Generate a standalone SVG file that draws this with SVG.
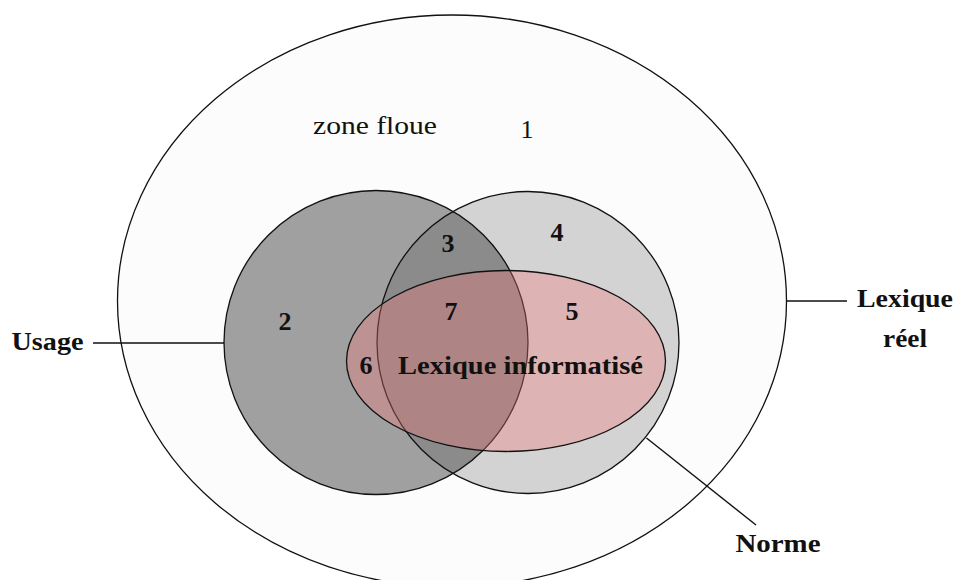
<svg xmlns="http://www.w3.org/2000/svg" width="957" height="580" viewBox="0 0 957 580">
<style>
.b{font-family:"Liberation Serif","DejaVu Serif",serif;font-weight:bold;font-size:26px;fill:#111;text-anchor:middle}
.r{font-family:"Liberation Serif","DejaVu Serif",serif;font-weight:normal;font-size:26px;fill:#111;text-anchor:middle}
.ln{stroke:#111;stroke-width:1.4;fill:none}
.edge{stroke:#111;stroke-width:1.3}
</style>
<rect width="957" height="580" fill="#ffffff"/>
<g id="lexique-reel">
<ellipse cx="452" cy="301" rx="334.5" ry="286" fill="#fcfcfc" class="edge"/>
<text class="r" x="375" y="134" textLength="124" lengthAdjust="spacingAndGlyphs">zone floue</text>
<text class="r" x="527" y="138">1</text>
</g>
<g id="norme">
<circle cx="528" cy="342.5" r="151" fill="#d3d3d3"/>
</g>
<g id="usage">
<circle cx="376" cy="342.5" r="152" fill="#444444" fill-opacity="0.5" class="edge"/>
</g>
<g id="norme-edge">
<circle cx="528" cy="342.5" r="151" fill="none" class="edge"/>
</g>
<g id="lexique-informatise">
<ellipse cx="506" cy="361" rx="159.5" ry="90.5" fill="rgb(240,120,120)" fill-opacity="0.35"/>
<ellipse cx="506" cy="361" rx="159.5" ry="90.5" fill="none" class="edge"/>
<text class="b" x="520.5" y="374" textLength="245" lengthAdjust="spacingAndGlyphs">Lexique informatisé</text>
</g>
<g id="numbers">
<text class="b" x="285" y="330">2</text>
<text class="b" x="448" y="252">3</text>
<text class="b" x="557" y="241">4</text>
<text class="b" x="572" y="320">5</text>
<text class="b" x="366" y="374">6</text>
<text class="b" x="451" y="320">7</text>
</g>
<g id="connectors">
<line class="ln" x1="93" y1="343" x2="224" y2="343"/>
<line class="ln" x1="786.5" y1="301" x2="847" y2="301"/>
<line class="ln" x1="646.5" y1="438" x2="756" y2="525"/>
</g>
<g id="labels">
<text class="b" x="47.5" y="350" textLength="72" lengthAdjust="spacingAndGlyphs">Usage</text>
<text class="b" x="905" y="307" textLength="96" lengthAdjust="spacingAndGlyphs">Lexique</text>
<text class="b" x="905" y="347" textLength="44" lengthAdjust="spacingAndGlyphs">réel</text>
<text class="b" x="778" y="552" textLength="85" lengthAdjust="spacingAndGlyphs">Norme</text>
</g>
</svg>
